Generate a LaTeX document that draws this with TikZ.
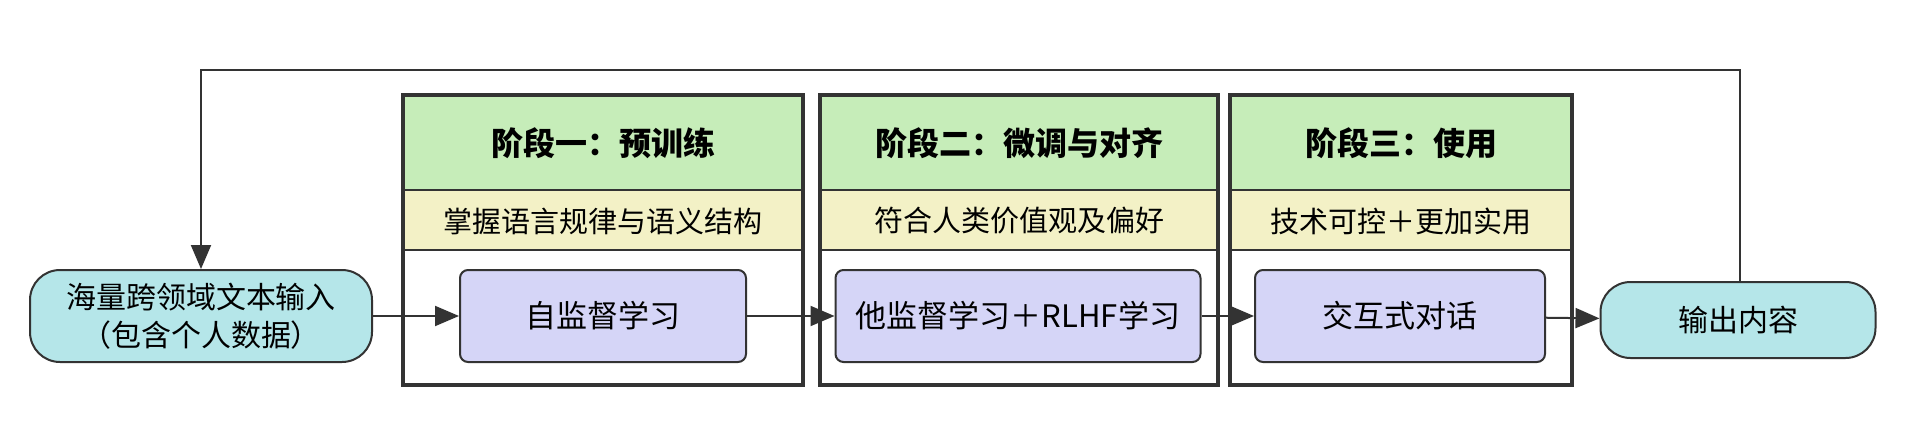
\documentclass[tikz,border=0pt]{standalone}
\usepackage{fontspec}
\setmainfont{Noto Sans CJK SC}
\usetikzlibrary{arrows.meta}
\definecolor{hgreen}{HTML}{C6EDB9}
\definecolor{hyellow}{HTML}{F3F1C6}
\definecolor{hpurple}{HTML}{D5D5F7}
\definecolor{hcyan}{HTML}{B5E6E9}
\definecolor{edge}{HTML}{333333}
\tikzset{
 stagebox/.style={draw=edge,line width=4pt},
 proc/.style={draw=edge,fill=hpurple,line width=2pt,rounded corners=8pt,font=\fontsize{31}{36}\selectfont},
 term/.style={draw=edge,fill=hcyan,line width=2pt,rounded corners=30pt,font=\fontsize{30}{38}\selectfont,align=center},
 conn/.style={draw=edge,line width=2pt,-{Triangle[length=24pt,width=20pt]}},
 ht/.style={font=\bfseries\fontsize{32}{36}\selectfont},
 st/.style={font=\fontsize{29}{34}\selectfont},
}
\begin{document}
\begin{tikzpicture}[x=1pt,y=-1pt]
\useasboundingbox (0,0) rectangle (1912,434);
\foreach \a/\b/\h/\s [count=\i] in {403/803/阶段一：预训练/掌握语言规律与语义结构, 820/1218/阶段二：微调与对齐/符合人类价值观及偏好, 1230/1572/阶段三：使用/技术可控＋更加实用}{
 \fill[hgreen] (\a,95) rectangle (\b,190);
 \fill[hyellow] (\a,190) rectangle (\b,250);
 \draw[edge,line width=1.5pt] (\a,190) -- (\b,190) (\a,250) -- (\b,250);
 \draw[stagebox] (\a,95) rectangle (\b,385);
 \node[ht] (h\i) at ({(\a+\b)/2},143) {\h};
 \node[st] (s\i) at ({(\a+\b)/2},221) {\s};
}
\node[proc,minimum width=286pt,minimum height=92pt] (p1) at (603,316) {自监督学习};
\node[proc,minimum width=365pt,minimum height=92pt] (p2) at (1018,316) {他监督学习＋RLHF学习};
\node[proc,minimum width=290pt,minimum height=92pt] (p3) at (1400,316) {交互式对话};
\node[term,minimum width=342pt,minimum height=92pt] (in) at (201,316) {海量跨领域文本输入\\（包含个人数据）};
\node[term,minimum width=275pt,minimum height=76pt] (out) at (1738,320) {输出内容};
\draw[conn] (in) -- (p1);
\draw[conn] (p1) -- (p2);
\draw[conn] (p2) -- (p3);
\draw[conn] (p3) -- (out);
\coordinate (c1) at (1740,70);
\coordinate (c2) at (201,70);
\draw[conn] (out.north -| c1) -- (c1) -- (c2) -- (in.north);
\end{tikzpicture}
\end{document}
